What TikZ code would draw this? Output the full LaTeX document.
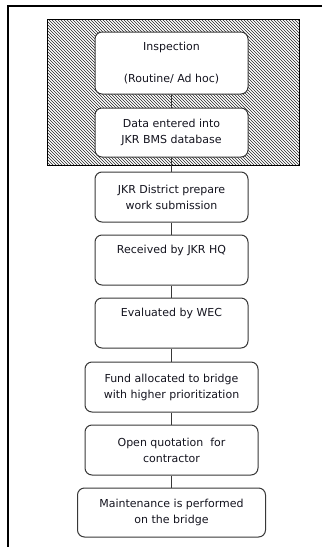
\documentclass[tikz,border=0pt]{standalone}
\usepackage{fontspec}
\setmainfont{DejaVu Sans}
\usetikzlibrary{patterns}
\definecolor{boxline}{rgb}{0.22,0.22,0.22}
\definecolor{inktext}{rgb}{0.08,0.08,0.12}
\begin{document}
\begin{tikzpicture}[x=1pt,y=1pt,yscale=-1,xscale=1,
  stepbox/.style={draw=boxline,line width=1pt,fill=white,rounded corners=7pt,
    minimum width=153pt,inner sep=0pt,align=center,text=inktext,
    font=\fontsize{11}{16}\selectfont},
  link/.style={draw=boxline,line width=1pt}]
\useasboundingbox (0,0) rectangle (322,547);

%Frame: top and left edges
\draw [line width=2pt]  (322,5.5) -- (8,5.5) -- (8,547) ;

%Shape: hatched block
\draw [pattern=north west lines,pattern color=black!85,line width=0.8pt]  (47,19) rectangle (299,165) ;

% Step boxes
\node [stepbox,minimum height=62pt] (inspect) at (171.5,63) {Inspection\\ \strut\\(Routine/ Ad hoc)};
\node [stepbox,minimum height=49pt] (dataentry) at (171.5,132.5) {Data entered into\\JKR BMS database};
\node [stepbox,minimum height=50pt] (district) at (171.5,197) {JKR District prepare\\work submission};
\node [stepbox,minimum height=50pt] (hq) at (171.5,260) {Received by JKR HQ\\ \strut};
\node [stepbox,minimum height=50pt] (wec) at (171.5,323) {Evaluated by WEC\\ \strut};
\node [stepbox,minimum height=50pt,minimum width=173pt] (fund) at (171.5,387) {Fund allocated to bridge\\with higher prioritization};
\node [stepbox,minimum height=50pt,minimum width=173pt] (quote) at (171.5,450) {Open quotation\ \ for\\contractor};
\node [stepbox,minimum height=49pt,minimum width=188pt] (maint) at (171.5,512.5) {Maintenance is performed\\on the bridge};

% Connectors
\draw [link] (inspect) -- (dataentry) ;
\draw [link] (dataentry) -- (district) ;
\draw [link] (district) -- (hq) ;
\draw [link] (hq) -- (wec) ;
\draw [link] (wec) -- (fund) ;
\draw [link] (fund) -- (quote) ;
\draw [link] (quote) -- (maint) ;

\end{tikzpicture}
\end{document}
